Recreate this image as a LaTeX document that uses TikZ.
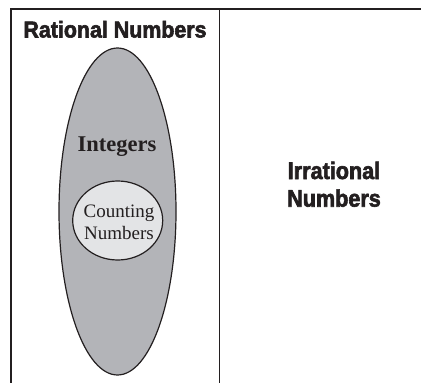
\documentclass[tikz,border=0pt]{standalone}
\usepackage{fontspec}
\usetikzlibrary{shapes.geometric}
\setmainfont{Liberation Serif}
\newfontfamily\condfont[FakeStretch=0.93,FakeBold=2.5]{Liberation Sans Bold}
\newfontfamily\condfontb[FakeStretch=0.9,FakeBold=2.5]{Liberation Sans Bold}
\definecolor{inkc}{HTML}{231F20}
\definecolor{intgray}{HTML}{B3B4B8}
\definecolor{cntgray}{HTML}{E3E4E6}
\tikzset{
  frameline/.style={draw=inkc, line width=1.6pt},
  headtext/.style={font=\condfont\fontsize{23}{26}\selectfont, text=inkc, inner sep=0, anchor=base},
  irrtext/.style={font=\condfontb\fontsize{24}{28}\selectfont, text=inkc, inner sep=0, anchor=base},
  setshape/.style={ellipse, draw=inkc, line width=1.2pt, inner sep=0},
  inttext/.style={font=\bfseries\fontsize{22.5}{26}\selectfont, text=inkc, inner sep=0, anchor=base},
  cnttext/.style={font=\fontsize{19}{22}\selectfont, text=inkc, inner sep=0, anchor=base}
}
\begin{document}
\begin{tikzpicture}[x=1pt, y=-1pt]
\useasboundingbox (0,0) rectangle (421,383);
\coordinate (tl) at (11,9);
\coordinate (tr) at (421,9);
\coordinate (bl) at (11,383);
\coordinate (tm) at (219.3,9);
\coordinate (bm) at (219.3,383);
\draw[frameline] (bl) -- (tl) -- (tr);
\draw[frameline] (tm) -- (bm);
\node[setshape, fill=intgray, minimum width=117pt, minimum height=327pt] (integers) at (117.5,211.5) {};
\node[setshape, fill=cntgray, minimum width=90pt, minimum height=79pt] (counting) at (117.7,220.5) {};
\node[headtext] (rational) at (115,37.5) {Rational Numbers};
\node[inttext] (intlabel) at (117,151) {Integers};
\node[cnttext] (cnt1) at (119,217) {Counting};
\node[cnttext] (cnt2) at (119,239) {Numbers};
\node[irrtext] (irr1) at (334,179) {Irrational};
\node[irrtext] (irr2) at (334,206.7) {Numbers};
\end{tikzpicture}
\end{document}
